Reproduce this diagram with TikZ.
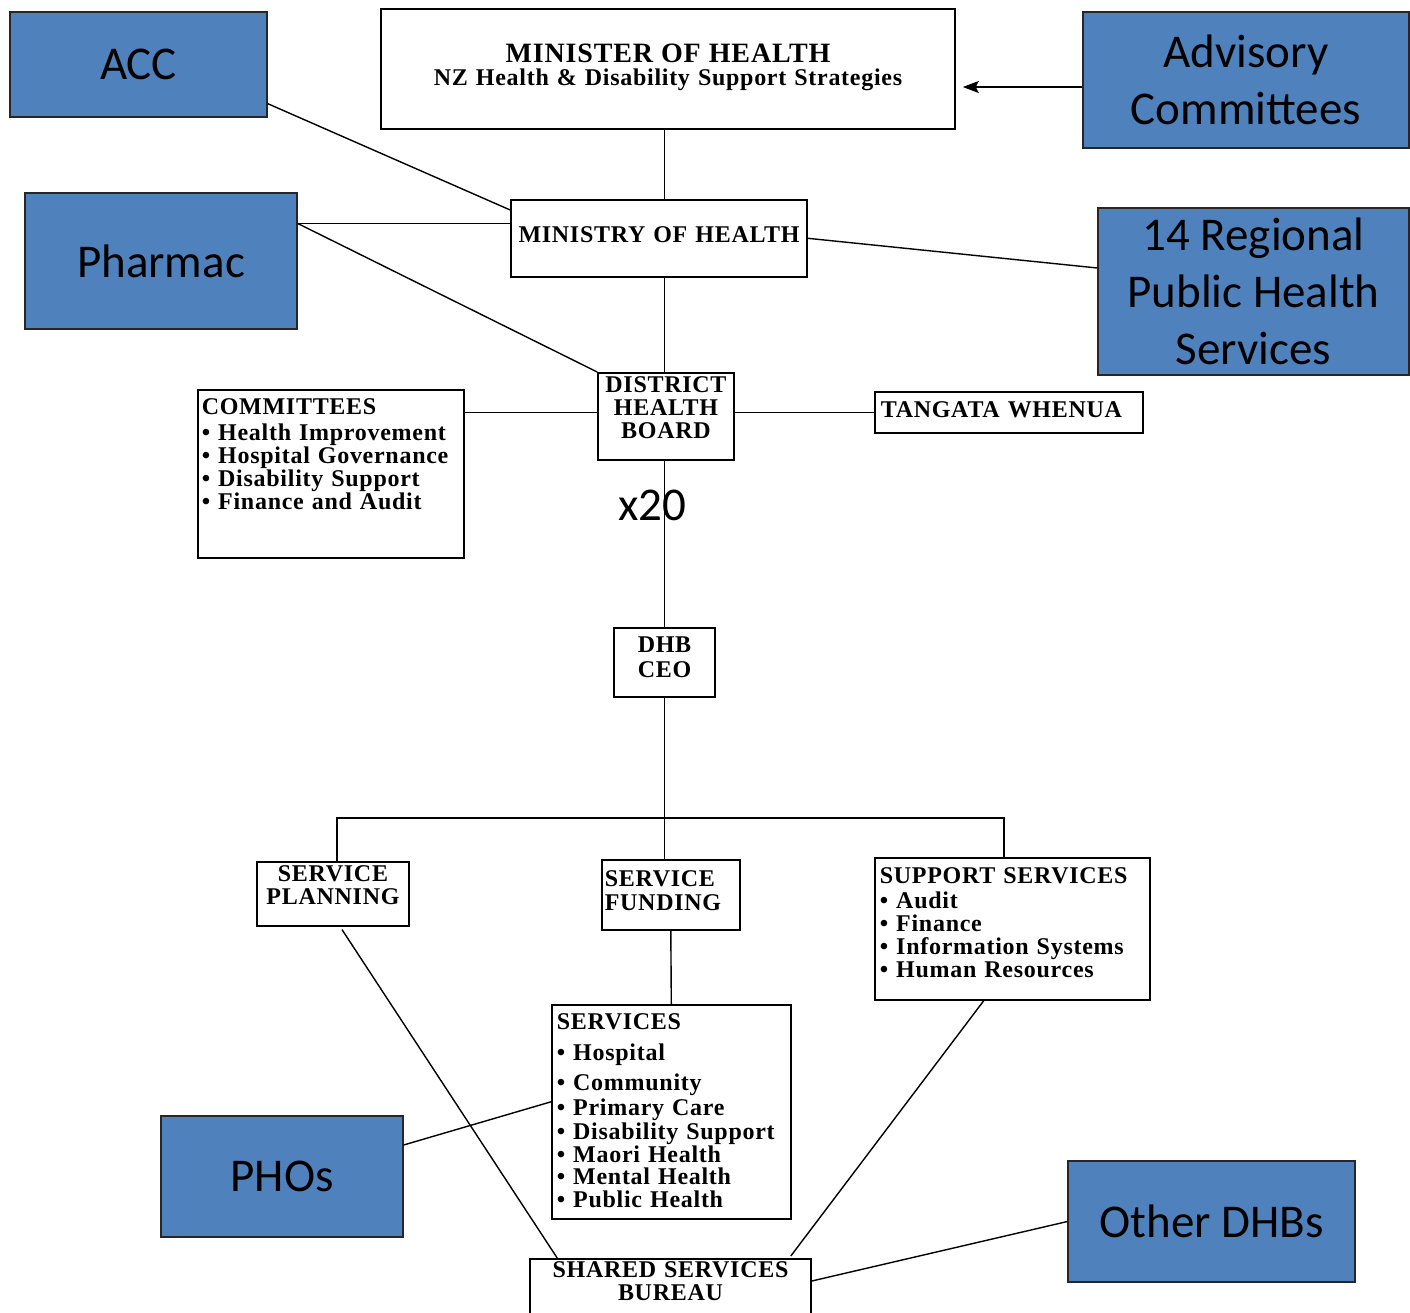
\documentclass[tikz,border=0pt]{standalone}
\usepackage{fontspec}
\newfontfamily\boxfont[LetterSpace=3]{Liberation Serif}
\newfontfamily\calfont{Carlito}
\usetikzlibrary{arrows.meta,calc}
\definecolor{orgblue}{HTML}{4F81BD}

\begin{document}
\begin{tikzpicture}[x=1pt, y=-1pt,
    box/.style={draw, line width=1.6pt, fill=white, inner xsep=3pt, inner ysep=0pt,
        font=\boxfont\bfseries\fontsize{24}{23}\selectfont},
    bluebox/.style={draw=black!85, line width=1.2pt, fill=orgblue, inner sep=0pt,
        align=center, font=\calfont\fontsize{47}{57}\selectfont},
    link/.style={line width=1.4pt}]

        \useasboundingbox (0,0) rectangle (1410,1312);

        % --- TOP LEVEL ---
        \node[box, anchor=north, text width=568pt, align=center, text height=54pt, text depth=66pt] (minister) at (668,8)
            {{\fontsize{28}{23}\selectfont MINISTER OF HEALTH}\\NZ Health \& Disability Support Strategies};
        \node[box, anchor=north, inner xsep=1pt, text width=294pt, align=center, text height=43pt, text depth=34pt] (ministry) at (659,199) {MINISTRY OF HEALTH};
        \node[bluebox, minimum width=257pt, minimum height=105pt] (acc) at (138.5,64.5) {ACC};
        \node[bluebox, minimum width=326pt, minimum height=136pt] (adv) at (1246,80) {Advisory\\Committees};
        \node[bluebox, minimum width=272pt, minimum height=136pt] (pharmac) at (161,261) {Pharmac};
        \node[bluebox, minimum width=311pt, minimum height=167pt] (regional) at (1253.5,291.5) {14 Regional\\Public Health\\Services};

        % --- DHB LEVEL ---
        \node[box, anchor=north, text width=130pt, align=center, text height=20pt, text depth=67pt] (dhb) at (666,372) {DISTRICT\\HEALTH\\BOARD};
        \node[box, anchor=north west, inner xsep=4pt, text width=258pt, align=left, text height=25pt, text depth=143pt] (comm) at (197,389)
            {COMMITTEES\\[3pt]
            • Health Improvement\\
            • Hospital Governance\\
            • Disability Support\\
            • Finance and Audit};
        \node[box, anchor=north west, inner xsep=6pt, text width=256pt, align=left, text height=26pt, text depth=15pt] (tw) at (874,391) {TANGATA WHENUA};
        \node[font=\calfont\fontsize{47}{57}\selectfont] (mult) at (652,505) {x20};
        \node[box, anchor=north, text width=95pt, align=center, text height=25pt, text depth=44pt] (ceo) at (664.5,627) {DHB\\[2pt]CEO};

        % --- SERVICE LEVEL ---
        \node[box, anchor=north, text width=146pt, align=center, text height=20pt, text depth=44pt] (plan) at (333,861) {SERVICE\\PLANNING};
        \node[box, anchor=north west, text width=132pt, align=left, text height=27pt, text depth=43pt] (fund) at (601,859) {SERVICE\\[1pt]FUNDING};
        \node[box, anchor=north west, inner xsep=5pt, text width=265pt, align=left, text height=26pt, text depth=116pt] (supp) at (874,857)
            {SUPPORT SERVICES\\[2pt]
            • Audit\\
            • Finance\\
            • Information Systems\\
            • Human Resources};
        \node[box, anchor=north west, inner xsep=5pt, text width=229pt, align=left, text height=25pt, text depth=189pt] (serv) at (551,1004)
            {SERVICES\\[8pt]
            • Hospital\\[7pt]
            • Community\\[2pt]
            • Primary Care\\[1pt]
            • Disability Support\\
            • Maori Health\\[-1pt]
            • Mental Health\\
            • Public Health};
        \node[box, anchor=north, text width=275pt, align=center, text height=19pt, text depth=72pt] (shared) at (670.5,1258) {SHARED SERVICES\\BUREAU};
        \node[bluebox, minimum width=242pt, minimum height=121pt] (phos) at (282,1176.5) {PHOs};
        \node[bluebox, minimum width=287pt, minimum height=121pt] (others) at (1211.5,1221.5) {Other DHBs};

        % Spine
        \draw[link] (minister.south -| ceo) -- (ministry.north -| ceo);
        \draw[link] (ministry.south -| ceo) -- (dhb.north -| ceo);
        \draw[link] (dhb.south -| ceo) -- (ceo.north);

        % Upper links
        \draw[link] ($(acc.south east)+(0,-14)$) -- ($(ministry.north west)+(0,11)$);
        \coordinate (ph) at ($(pharmac.north east)+(0,31)$);
        \draw[link] (ph) -- (ph -| ministry.west);
        \draw[link] (ph) -- (dhb.north west);
        \draw[link] (ministry.east) -- ($(regional.west)+(0,-23.5)$);
        \draw[link, -{Stealth[length=16pt,width=12pt,inset=3pt]}] ($(adv.west)+(0,7)$) -- ($(minister.east |- adv.west)+(7,7)$);
        \draw[link] (tw.west -| comm.east) -- (tw.west -| dhb.west);
        \draw[link] (dhb.east |- tw.west) -- (tw.west);

        % Bus
        \coordinate (busL) at (337,818);
        \coordinate (busR) at (1004,818);
        \draw[link] (ceo.south) -- (ceo.south |- fund.north);
        \draw[link] (plan.north -| busL) -- (busL) -- (busR) -- (busR |- supp.north);
        \draw[link] (fund.south) -- (serv.north);

        % Lower links
        \draw[link] ($(phos.east)+(0,-31.5)$) -- ($(serv.west)+(0,-10)$);
        \draw[link] ($(plan.south)+(9,3)$) -- ($(shared.north west)+(28,0)$);
        \draw[link] ($(supp.south)+(-28.5,0)$) -- ($(shared.north east)+(-21,-2)$);
        \draw[link] (others.west) -- ($(shared.north east)+(0,23)$);

    \end{tikzpicture}
\end{document}
